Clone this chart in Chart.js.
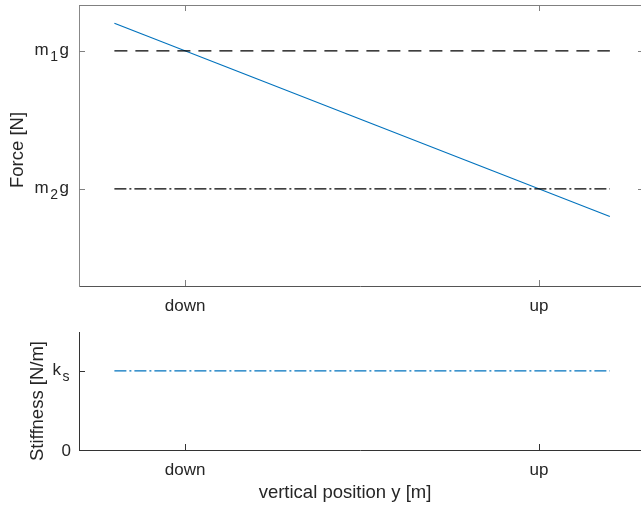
<!DOCTYPE html>
<html>
<head>
<meta charset="utf-8">
<script src="https://cdn.jsdelivr.net/npm/chart.js@4"></script>
<style>
  html, body { margin: 0; padding: 0; background: #fff; overflow: hidden; }
  #wrap { position: relative; width: 641px; height: 509px; }
  canvas { position: absolute; left: 0; }
  #forceChart { top: 0; }
  #stiffChart { top: 320px; }
</style>
</head>
<body>
<div id="wrap">
  <canvas id="forceChart" width="641" height="320"></canvas>
  <canvas id="stiffChart" width="641" height="189"></canvas>
</div>
<script>
// --- data ---
const positions = [-0.2, 1.2];          // x of the plotted curves
const forceValues = [1.2, -0.2];        // spring force over the stroke
const m1gLevel = [1, 1];
const m2gLevel = [0, 0];
const stiffnessValues = [1, 1];
const xTickValues = [0, 1];
const xTickLabels = ['down', 'up'];
const forceTickValues = [0, 1];
const forceTickLabels = [['m', '2', 'g'], ['m', '1', 'g']];
const stiffTickValues = [0, 1];
const stiffTickLabels = [['0', '', ''], ['k', 's', '']];

const FONT = '"Liberation Sans", Arial, Helvetica, sans-serif';
const BLUE = '#0072BD';
const TXT = '#262626';

// ticks pointing inwards, labels with subscripts, axis titles
const axesDecor = {
  id: 'axesDecor',
  afterDraw(chart, args, o) {
    const ctx = chart.ctx;
    const a = chart.chartArea;
    const x = chart.scales.x, y = chart.scales.y;
    ctx.save();
    ctx.strokeStyle = o.axisColor;
    ctx.lineWidth = 1;
    ctx.beginPath();
    if (o.box) {
      ctx.moveTo(a.left, a.top + 0.5); ctx.lineTo(a.right, a.top + 0.5);
    }
    x.ticks.forEach(t => {
      const px = Math.round(x.getPixelForValue(t.value)) + 0.5;
      ctx.moveTo(px, a.bottom); ctx.lineTo(px, a.bottom - 6);
      if (o.box) { ctx.moveTo(px, a.top); ctx.lineTo(px, a.top + 6); }
    });
    y.ticks.forEach(t => {
      const py = Math.round(y.getPixelForValue(t.value)) + 0.5;
      ctx.moveTo(a.left, py); ctx.lineTo(a.left + 6, py);
      // right axis lies just past the canvas edge; only its tick tips show
      if (o.box) { ctx.moveTo(a.right, py); ctx.lineTo(a.right - 3, py); }
    });
    ctx.stroke();

    // y tick labels: main + lowered subscript + tail
    ctx.fillStyle = TXT;
    ctx.textBaseline = 'alphabetic';
    ctx.textAlign = 'left';
    const mainF = '17px ' + FONT, subF = '14px ' + FONT;
    o.yLabels.forEach((parts, i) => {
      const py = y.getPixelForValue(o.yValues[i]);
      ctx.font = mainF; const w1 = ctx.measureText(parts[0]).width;
      const w3 = ctx.measureText(parts[2]).width;
      ctx.font = subF; const w2 = parts[1] ? ctx.measureText(parts[1]).width + 3 : 0;
      let cx = a.left - (parts[2] ? 10 : 8) - (w1 + w2 + w3);
      const base = parts[1] ? py + 4 : py + 6;
      ctx.font = mainF; ctx.fillText(parts[0], cx, base); cx += w1;
      ctx.font = subF; ctx.fillText(parts[1], cx + 1.5, base + 6); cx += w2;
      ctx.font = mainF; ctx.fillText(parts[2], cx, base);
    });

    // axis titles
    ctx.font = '18.5px ' + FONT;
    ctx.textAlign = 'center';
    ctx.save();
    ctx.translate(o.yTitleX, o.yTitleY);
    ctx.rotate(-Math.PI / 2);
    ctx.fillText(o.yTitle, 0, 0);
    ctx.restore();
    if (o.xTitle) ctx.fillText(o.xTitle, o.xTitleX, o.xTitleY);
    ctx.restore();
  }
};

function xScale(height, color) {
  return {
    type: 'linear', min: -0.3, max: 1.288,
    grid: { display: false },
    border: { display: true, color: color, width: 1 },
    afterBuildTicks: s => { s.ticks = xTickValues.map(v => ({ value: v })); },
    afterFit: s => { s.height = height; },
    ticks: {
      color: TXT, padding: 2, maxRotation: 0,
      font: { family: FONT, size: 17 },
      callback: v => xTickLabels[xTickValues.indexOf(v)]
    }
  };
}

function yScale(min, max, values, color) {
  return {
    type: 'linear', min: min, max: max,
    grid: { display: false },
    border: { display: true, color: color, width: 1 },
    afterBuildTicks: s => { s.ticks = values.map(v => ({ value: v })); },
    afterFit: s => { s.width = 79; },
    ticks: { display: false }
  };
}

function series(xs, ys, color, dash, width) {
  return {
    data: xs.map((v, i) => ({ x: v, y: ys[i] })),
    borderColor: color, borderWidth: width, borderDash: dash,
    pointRadius: 0, fill: false, tension: 0
  };
}

Chart.register(axesDecor);

new Chart(document.getElementById('forceChart'), {
  type: 'line',
  data: {
    datasets: [
      series(positions, m1gLevel, '#000', [13, 8], 1.2),
      series(positions, m2gLevel, '#000', [12, 3, 2, 3], 1.2),
      series(positions, forceValues, BLUE, [], 1.1)
    ]
  },
  options: {
    responsive: false, animation: false,
    layout: { padding: { top: 5, right: 0, left: 0, bottom: 0 } },
    plugins: {
      legend: { display: false }, tooltip: { enabled: false },
      axesDecor: {
        box: true, axisColor: '#808080',
        yValues: forceTickValues, yLabels: forceTickLabels,
        yTitle: 'Force [N]', yTitleX: 23, yTitleY: 150
      }
    },
    scales: { x: xScale(34, '#555'), y: yScale(-0.703, 1.333, forceTickValues, '#888') }
  }
});

new Chart(document.getElementById('stiffChart'), {
  type: 'line',
  data: {
    datasets: [
      series(positions, stiffnessValues, BLUE, [12, 3, 2, 3], 1.2)
    ]
  },
  options: {
    responsive: false, animation: false,
    layout: { padding: { top: 12, right: 0, left: 0, bottom: 0 } },
    plugins: {
      legend: { display: false }, tooltip: { enabled: false },
      axesDecor: {
        box: false, axisColor: '#333',
        yValues: stiffTickValues, yLabels: stiffTickLabels,
        yTitle: 'Stiffness [N/m]', yTitleX: 43, yTitleY: 81,
        xTitle: 'vertical position y [m]', xTitleX: 345, xTitleY: 178
      }
    },
    scales: {
      x: xScale(59, '#333'),
      y: yScale(0, 1.49, stiffTickValues, '#333')
    }
  }
});
</script>
</body>
</html>
